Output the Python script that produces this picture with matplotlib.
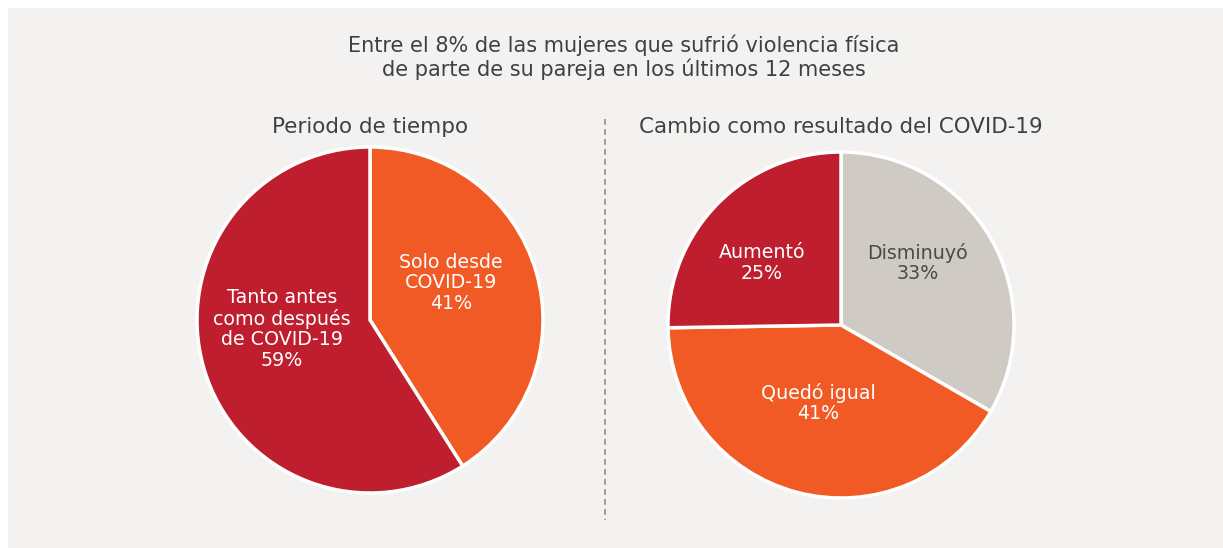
import matplotlib
matplotlib.use('Agg')
import matplotlib.pyplot as plt
from matplotlib.patches import Rectangle

plt.rcParams['font.family'] = ['DejaVu Sans']

# Data
title = 'Entre el 8% de las mujeres que sufrió violencia física\nde parte de su pareja en los últimos 12 meses'

left_title = 'Periodo de tiempo'
left_labels = ['Solo desde\nCOVID-19', 'Tanto antes\ncomo después\nde COVID-19']
left_values = [41, 59]

right_title = 'Cambio como resultado del COVID-19'
right_labels = ['Disminuyó', 'Quedó igual', 'Aumentó']
right_values = [33, 41, 25]

RED = '#be1e2d'
ORANGE = '#f15a24'
GRAY = '#d0cac4'
BG = '#f3f2f0'
TXT = '#404040'

W, H = 1223, 548
fig = plt.figure(figsize=(W / 100, H / 100), dpi=100)
fig.patch.set_facecolor('white')
fig.patches.append(Rectangle((8 / W, 0), 1 - 8 / W, 1 - 8 / H, transform=fig.transFigure,
                             facecolor=BG, edgecolor='none', zorder=-5))

fig.text(624 / W, 1 - 57 / H, title, ha='center', va='center', fontsize=15,
         color=TXT, linespacing=1.12)
fig.text(370 / W, 1 - 127 / H, left_title, ha='center', va='center', fontsize=15.5,
         color=TXT)
fig.text(841 / W, 1 - 127 / H, right_title, ha='center', va='center', fontsize=15.4,
         color=TXT)

# dashed divider
fig.add_artist(plt.Line2D([604.5 / W, 604.5 / W], [1 - 119 / H, 1 - 520 / H],
                          transform=fig.transFigure, color='#9c8a7a', lw=1.2,
                          linestyle=(0, (3.5, 2.5)), zorder=-4))


def make_pie(cx, cy, r, values, colors, labels, label_pos, label_colors):
    ax = fig.add_axes([(cx - r) / W, (H - cy - r) / H, 2 * r / W, 2 * r / H])
    ax.pie(values, colors=colors, startangle=90, counterclock=False,
           wedgeprops=dict(edgecolor='white', linewidth=2.5))
    ax.set_xlim(-1, 1)
    ax.set_ylim(-1, 1)
    ax.set_aspect('equal')
    ax.axis('off')
    for lab, v, (x, y), c in zip(labels, values, label_pos, label_colors):
        ax.text(x, y, f'{lab}\n{v}%', ha='center', va='center', fontsize=13.7,
                color=c, linespacing=1.1)
    return ax


make_pie(370, 320, 173, left_values, [ORANGE, RED], left_labels,
         [(0.468, 0.214), (-0.509, -0.052)], ['white', 'white'])
make_pie(841, 325, 173, right_values, [GRAY, ORANGE, RED], right_labels,
         [(0.445, 0.358), (-0.133, -0.451), (-0.457, 0.358)], ['#4a4a4a', 'white', 'white'])

fig.savefig('out.png', dpi=100, facecolor=fig.get_facecolor())
